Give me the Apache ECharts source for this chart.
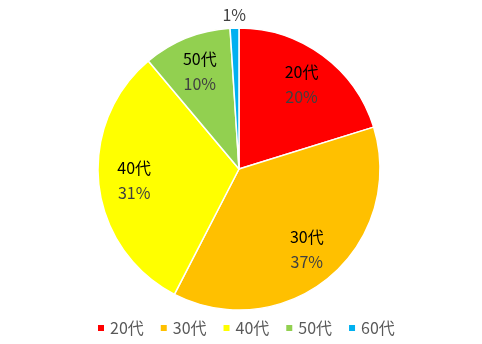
<!DOCTYPE html>
<html><head><meta charset="utf-8">
<script src="https://cdn.jsdelivr.net/npm/echarts@6/dist/echarts.min.js"></script>
<style>html,body{margin:0;padding:0;background:#fff}#c{width:482px;height:344px}</style>
</head><body><div id="c"></div>
<script>
const categories = ['20代', '30代', '40代', '50代', '60代'];
const values = [20, 37, 31, 10, 1];
const colors = ['#FF0000', '#FFC000', '#FFFF00', '#92D050', '#00B0F0'];

const font = '"Noto Sans CJK JP", "Noto Sans", sans-serif';
const data = categories.map((n, i) => ({ name: n, value: values[i], itemStyle: { color: colors[i] } }));
const lastIdx = categories.length - 1;
const labelData = categories.map((n, i) => {
  const d = { name: n, value: values[i], itemStyle: { color: 'transparent' } };
  if (i === lastIdx) {
    d.label = { position: 'outside', formatter: '{p|{c}%}', distanceToLabelLine: 0 };
    d.labelLine = { show: false, length: 10, length2: 0 };
  }
  return d;
});

const chart = echarts.init(document.getElementById('c'));
chart.setOption({
  animation: false,
  color: colors,
  legend: {
    bottom: 3, left: 91, itemWidth: 8, itemHeight: 8, itemGap: 15, icon: 'rect',
    textStyle: { color: '#595959', fontSize: 16, fontFamily: font },
    data: categories.map((n, i) => ({ name: n, itemStyle: { color: colors[i] } }))
  },
  series: [
    {
      type: 'pie', center: [239, 169], radius: [0, 141], startAngle: 90, clockwise: true,
      label: { show: false }, labelLine: { show: false },
      itemStyle: { borderColor: '#fff', borderWidth: 1.5 },
      data: data
    },
    {
      type: 'pie', center: [239, 169], radius: [64, 141], startAngle: 90, clockwise: true, silent: true,
      legendHoverLink: false,
      itemStyle: { color: 'transparent', borderWidth: 0 },
      label: {
        show: true, position: 'inside', formatter: '{n|{b}}\n{p|{c}%}',
        rich: {
          n: { color: '#000', fontSize: 16, fontFamily: font, lineHeight: 25 },
          p: { color: '#404040', fontSize: 16, fontFamily: font, lineHeight: 25 }
        }
      },
      labelLayout: function (p) {
        return p.dataIndex === lastIdx ? { align: 'center', dy: -3 } : {};
      },
      labelLine: { show: false },
      data: labelData
    }
  ]
});
</script></body></html>
